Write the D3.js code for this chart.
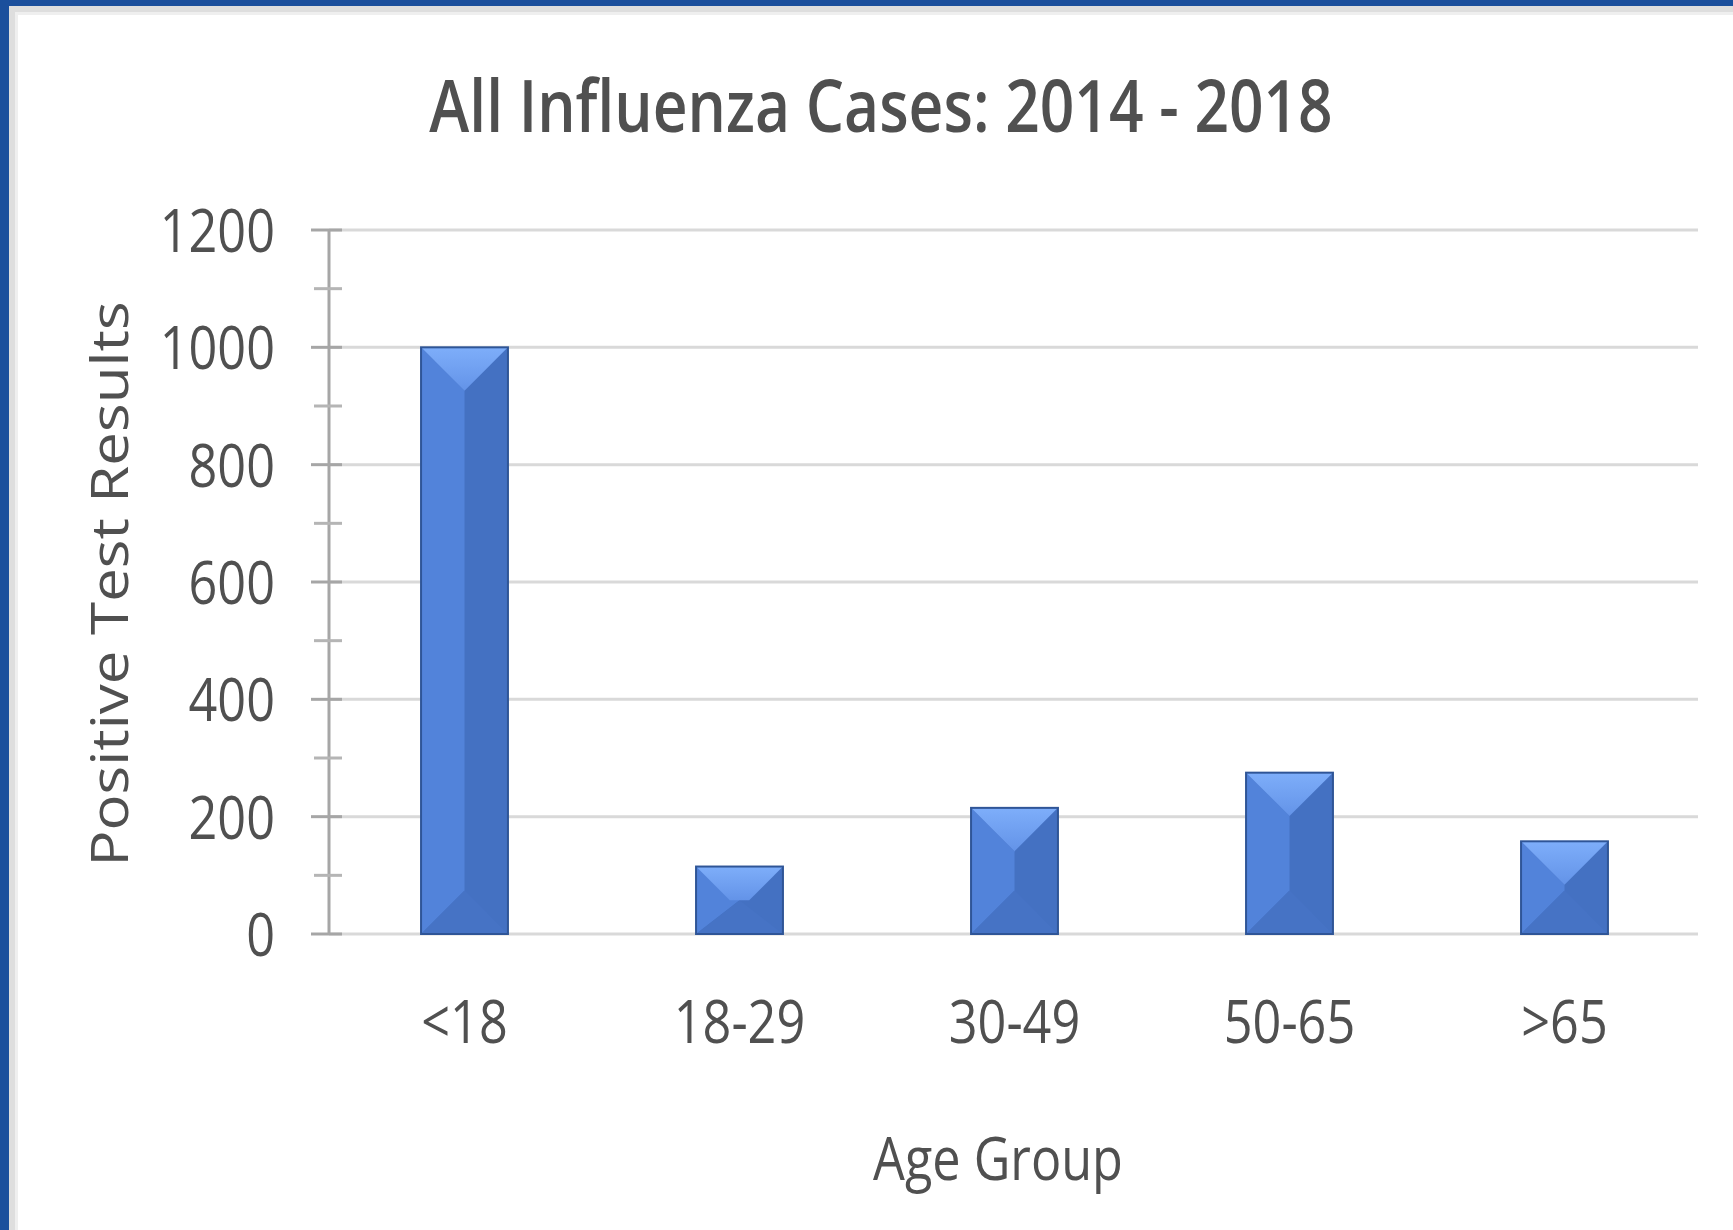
<!DOCTYPE html>
<html>
<head>
<meta charset="utf-8">
<script src="https://cdn.jsdelivr.net/npm/d3@7"></script>
<style>
    body { margin: 0; background: #fff; }
    text { font-family: "Open Sans", "Noto Sans", sans-serif; fill: #505050; }
</style>
</head>
<body>
<svg class="chart"></svg>
<script>
var ageGroups = ["<18", "18-29", "30-49", "50-65", ">65"];
var positives = [1000, 115, 215, 275, 158];
var yTicks = [0, 200, 400, 600, 800, 1000, 1200];
var yMinorTicks = [100, 300, 500, 700, 900, 1100];

var width = 1733,
    height = 1230,
    squeeze = 0.84; // the original type is set narrow

var svg = d3.select(".chart")
    .attr("width", width)
    .attr("height", height);

svg.append("rect").attr("width", width).attr("height", height).attr("fill", "#fff");

// frame: blue edge with a soft grey inner band
svg.append("rect").attr("x", 9).attr("y", 6).attr("width", width).attr("height", 6).attr("fill", "#dedede");
svg.append("rect").attr("x", 9).attr("y", 6).attr("width", 6).attr("height", height).attr("fill", "#dedede");
svg.append("rect").attr("x", 15).attr("y", 12).attr("width", width).attr("height", 3).attr("fill", "#efefef");
svg.append("rect").attr("x", 15).attr("y", 12).attr("width", 3).attr("height", height).attr("fill", "#efefef");
svg.append("rect").attr("x", 0).attr("y", 0).attr("width", width).attr("height", 6).attr("fill", "#1b4f9c");
svg.append("rect").attr("x", 0).attr("y", 0).attr("width", 9).attr("height", height).attr("fill", "#1b4f9c");

var x = d3.scaleBand()
    .domain(ageGroups)
    .range([327, 1702])
    .paddingInner(0.684)
    .paddingOuter(0.342);

var y = d3.scaleLinear()
    .domain([0, 1200])
    .range([934, 230]);

function narrow(sel) {
    sel.each(function() {
        this.setAttribute("textLength", this.getComputedTextLength() * squeeze);
        this.setAttribute("lengthAdjust", "spacingAndGlyphs");
    });
}

// gridlines
svg.append("g").selectAll("line").data(yTicks)
    .enter().append("line")
    .attr("x1", 329)
    .attr("x2", 1698)
    .attr("y1", function(d) { return y(d); })
    .attr("y2", function(d) { return y(d); })
    .attr("stroke", "#d9d9d9")
    .attr("stroke-width", 3);

// y axis: labels from d3.axisLeft, line and crossing ticks drawn by hand
var yAxis = svg.append("g")
    .attr("transform", "translate(329,0)")
    .call(d3.axisLeft(y).tickValues(yTicks).tickFormat(d3.format("d")).tickSize(0).tickPadding(54));
yAxis.select(".domain").remove();
yAxis.attr("font-family", null);
yAxis.selectAll("text")
    .attr("font-size", 60)
    .attr("dy", "0.36em")
    .call(narrow);

svg.append("line")
    .attr("x1", 329).attr("x2", 329)
    .attr("y1", y(1200)).attr("y2", y(0))
    .attr("stroke", "#a6a6a6")
    .attr("stroke-width", 3);

svg.append("g").selectAll("line").data(yTicks)
    .enter().append("line")
    .attr("x1", 311).attr("x2", 342)
    .attr("y1", function(d) { return y(d); })
    .attr("y2", function(d) { return y(d); })
    .attr("stroke", "#a6a6a6")
    .attr("stroke-width", 3);

svg.append("g").selectAll("line").data(yMinorTicks)
    .enter().append("line")
    .attr("x1", 314).attr("x2", 342)
    .attr("y1", function(d) { return y(d); })
    .attr("y2", function(d) { return y(d); })
    .attr("stroke", "#b5b5b5")
    .attr("stroke-width", 3);

// x axis labels
var xAxis = svg.append("g")
    .attr("transform", "translate(0," + y(0) + ")")
    .call(d3.axisBottom(x).tickSize(0).tickPadding(66));
xAxis.select(".domain").remove();
xAxis.attr("font-family", null);
xAxis.selectAll("text")
    .attr("font-size", 60)
    .attr("dy", "0.71em")
    .call(narrow);

// bevelled bars
var defs = svg.append("defs");
var topGrad = defs.append("linearGradient").attr("id", "topFace")
    .attr("x1", 0).attr("y1", 0).attr("x2", 0).attr("y2", 1);
topGrad.append("stop").attr("offset", "0%").attr("stop-color", "#7eaefa");
topGrad.append("stop").attr("offset", "100%").attr("stop-color", "#6393e8");

var bar = svg.append("g").selectAll("g")
    .data(ageGroups)
    .enter().append("g");

function geom(d, i) {
    var x0 = x(d), x1 = x(d) + x.bandwidth();
    var yt = y(positives[i]), yb = y(0);
    var dd = Math.min(x1 - x0, yb - yt) / 2;
    return { x0: x0, x1: x1, xc: (x0 + x1) / 2, yt: yt, yb: yb, d: dd };
}

bar.append("rect")
    .attr("x", function(d) { return x(d); })
    .attr("y", function(d, i) { return y(positives[i]); })
    .attr("width", x.bandwidth())
    .attr("height", function(d, i) { return y(0) - y(positives[i]); })
    .attr("fill", "#4471c2");

bar.append("polygon")
    .attr("fill", "#5283da")
    .attr("points", function(d, i) {
        var g = geom(d, i);
        return [[g.x0, g.yt], [g.xc, g.yt + g.d], [g.xc, g.yb - g.d], [g.x0, g.yb]].join(" ");
    });

bar.append("polygon")
    .attr("fill", "#4673c5")
    .attr("points", function(d, i) {
        var g = geom(d, i);
        return [[g.x0, g.yb], [g.xc, g.yb - g.d], [g.x1, g.yb]].join(" ");
    });

bar.append("polygon")
    .attr("fill", "url(#topFace)")
    .attr("points", function(d, i) {
        var g = geom(d, i);
        return [[g.x0, g.yt], [g.x1, g.yt], [g.x1 - g.d, g.yt + g.d], [g.x0 + g.d, g.yt + g.d]].join(" ");
    });

bar.append("rect")
    .attr("x", function(d) { return x(d); })
    .attr("y", function(d, i) { return y(positives[i]); })
    .attr("width", x.bandwidth())
    .attr("height", function(d, i) { return y(0) - y(positives[i]); })
    .attr("fill", "none")
    .attr("stroke", "#2f5597")
    .attr("stroke-width", 2);

// titles
svg.append("text")
    .attr("x", 881)
    .attr("y", 132)
    .attr("text-anchor", "middle")
    .attr("font-size", 72)
    .attr("font-weight", 600)
    .text("All Influenza Cases: 2014 - 2018")
    .call(narrow);

svg.append("text")
    .attr("x", 998)
    .attr("y", 1180)
    .attr("text-anchor", "middle")
    .attr("font-size", 60)
    .text("Age Group")
    .call(narrow);

svg.append("text")
    .attr("transform", "translate(128,584) scale(" + squeeze + ",1) rotate(-90)")
    .attr("text-anchor", "middle")
    .attr("font-size", 60)
    .text("Positive Test Results");
</script>
</body>
</html>
